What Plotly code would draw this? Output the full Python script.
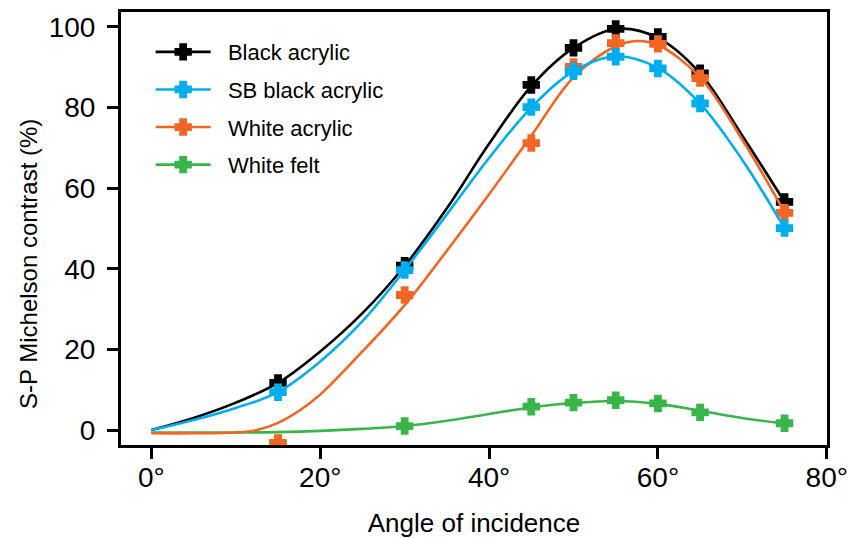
import plotly.graph_objects as go

# ---- data ----
angles = [15, 30, 45, 50, 55, 60, 65, 75]
black_acrylic = [11.7, 40.8, 85.6, 94.8, 99.5, 97.5, 88.5, 56.6]
sb_black_acrylic = [9.4, 39.7, 80.1, 89.0, 92.6, 89.7, 81.0, 50.1]
white_acrylic = [-3.2, 33.5, 71.2, 90.1, 96.0, 95.8, 87.3, 53.9]
white_felt = [-3.3, 1.0, 5.8, 6.8, 7.4, 6.6, 4.4, 1.7]

fit_angles_bk = [0, 5, 10, 15, 20, 25, 30, 35, 40, 45, 50, 55, 60, 65, 70, 75]
fit_black = [0.0, 3.0, 6.8, 11.7, 19.5, 29.0, 40.7, 55.0, 71.0, 85.3, 94.8, 99.5, 97.3, 88.5, 73.0, 56.6]
fit_sb = [0.0, 2.5, 5.5, 9.4, 17.0, 27.0, 39.7, 53.5, 67.5, 80.0, 89.0, 92.7, 89.8, 81.0, 67.0, 50.1]

fit_angles_wa = [0, 5, 10, 12.5, 15, 17.5, 20, 25, 30, 35, 40, 45, 50, 55, 57.5, 60, 65, 70, 75]
fit_white = [-0.8, -0.8, -0.6, 0.0, 1.8, 4.8, 8.8, 19.5, 31.0, 44.5, 58.5, 73.0, 87.5, 95.2, 96.5, 95.5, 87.5, 72.0, 54.0]

fit_angles_wf = [0, 10, 15, 20, 25, 30, 35, 40, 45, 50, 55, 60, 65, 70, 75]
fit_felt = [-0.6, -0.6, -0.5, -0.2, 0.3, 1.0, 2.3, 4.0, 5.6, 6.7, 7.2, 6.5, 4.8, 3.0, 1.6]

x_tickvals = [0, 20, 40, 60, 80]
x_ticktext = ["0°", "20°", "40°", "60°", "80°"]
y_tickvals = [0, 20, 40, 60, 80, 100]

names = ["Black acrylic", "SB black acrylic", "White acrylic", "White felt"]
colors = ["#000000", "#00AEEF", "#F26522", "#39B54A"]

series = {
    "Black acrylic": (fit_angles_bk, fit_black, black_acrylic),
    "SB black acrylic": (fit_angles_bk, fit_sb, sb_black_acrylic),
    "White acrylic": (fit_angles_wa, fit_white, white_acrylic),
    "White felt": (fit_angles_wf, fit_felt, white_felt),
}

FONT = "Liberation Sans, Arial, sans-serif"
MSIZE = 12
MLINE = 3
LW = 2.6

fig = go.Figure()
draw_order = ["White felt", "Black acrylic", "White acrylic", "SB black acrylic"]
for name in draw_order:
    i = names.index(name)
    fx, fy, my = series[name]
    c = colors[i]
    fig.add_trace(go.Scatter(x=fx, y=fy, mode="lines", line=dict(color=c, width=LW, shape="spline", smoothing=1.0),
                             showlegend=False, hoverinfo="skip"))
    fig.add_trace(go.Scatter(x=angles, y=my, mode="markers",
                             marker=dict(symbol="cross", size=MSIZE, color=c, line=dict(width=MLINE, color=c)),
                             showlegend=False, name=name))

for i, name in enumerate(names):
    fig.add_trace(go.Scatter(x=[None], y=[None], mode="lines+markers", name="\u00a0\u00a0" + name,
                             line=dict(color=colors[i], width=LW),
                             marker=dict(symbol="cross", size=MSIZE, color=colors[i],
                                         line=dict(width=MLINE, color=colors[i])),
                             legendgroup=name, legendrank=i + 1, showlegend=True))

fig.add_annotation(text="S-P Michelson contrast (%)", textangle=-90,
                   xref="paper", yref="paper", x=-0.1317, y=0.418,
                   xanchor="center", yanchor="middle", showarrow=False,
                   font=dict(size=24, family=FONT, color="black"))

fig.update_layout(
    width=848, height=538,
    margin=dict(l=121, r=21, t=12, b=93),
    plot_bgcolor="white", paper_bgcolor="white",
    font=dict(family=FONT, color="black"),
    legend=dict(x=0.042, y=0.956, xanchor="left", yanchor="top",
                font=dict(size=22, family=FONT), itemwidth=55,
                traceorder="grouped", tracegroupgap=6,
                bgcolor="rgba(0,0,0,0)"),
    xaxis=dict(range=[-3.6, 80.03], tickvals=x_tickvals, ticktext=x_ticktext,
               showline=True, linecolor="black", linewidth=3, mirror=True,
               ticks="outside", ticklen=11, tickwidth=3, tickcolor="black",
               showgrid=False, zeroline=False, automargin=False,
               tickfont=dict(size=28), ticklabelstandoff=-6,
               title=dict(text="Angle of incidence", font=dict(size=26), standoff=24)),
    yaxis=dict(range=[-3.7, 103.7], tickvals=y_tickvals,
               showline=True, linecolor="black", linewidth=3, mirror=True,
               ticks="outside", ticklen=11, tickwidth=3, tickcolor="black",
               showgrid=False, zeroline=False, automargin=False,
               tickfont=dict(size=28), ticklabelstandoff=6),
)

fig.write_html("out.html")
